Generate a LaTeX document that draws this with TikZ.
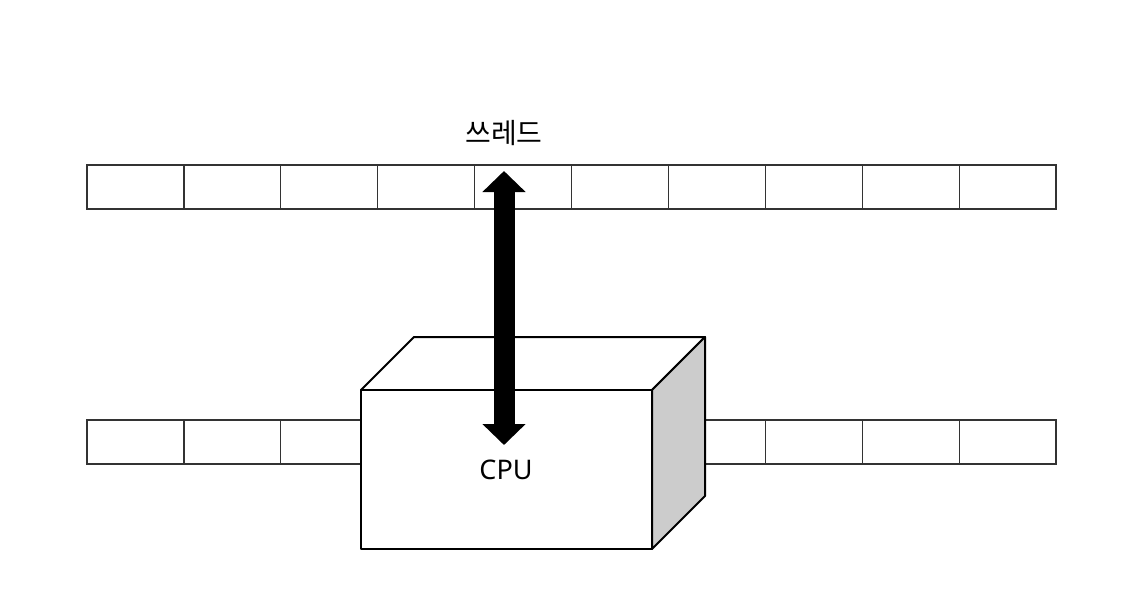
\documentclass[tikz,border=0pt]{standalone}
\usepackage{fontspec}
\setmainfont{Noto Sans}
\newfontfamily\cjk{Noto Sans CJK KR}
\usetikzlibrary{arrows.meta}
\tikzset{
  cell/.style={draw=black!80, line width=1.2pt},
  cube/.style={draw=black, line width=2pt, line join=round},
  label/.style={font=\fontsize{27}{32}\selectfont, inner sep=0pt}
}
\begin{document}
\begin{tikzpicture}[x=1pt, y=-1pt]
  \useasboundingbox (0,0) rectangle (1131,614);
  % memory rows
  \foreach \i in {0,...,9} {
    \draw[cell] ({87+96.9*\i},165) rectangle ({87+96.9*(\i+1)},209);
    \draw[cell] ({87+96.9*\i},420) rectangle ({87+96.9*(\i+1)},464);
  }
  % cpu box
  \filldraw[cube, fill=white] (361,390) -- (414,337) -- (705,337) -- (652,390) -- cycle;
  \filldraw[cube, fill=black!20] (652,390) -- (705,337) -- (705,496) -- (652,549) -- cycle;
  \filldraw[cube, fill=white] (361,390) rectangle (652,549);
  \node[label] (cpu) at (506,470) {CPU};
  \node[label, font=\fontsize{28}{32}\selectfont\cjk] (thread) at (504,133) {쓰레드};
  % access arrow
  \coordinate (thrtop) at (504,171);
  \coordinate (thrbot) at (504,445);
  \draw[line width=21pt, {Triangle[width=42pt,length=21pt]}-{Triangle[width=42pt,length=21pt]}] (thrtop) -- (thrbot);
\end{tikzpicture}
\end{document}
